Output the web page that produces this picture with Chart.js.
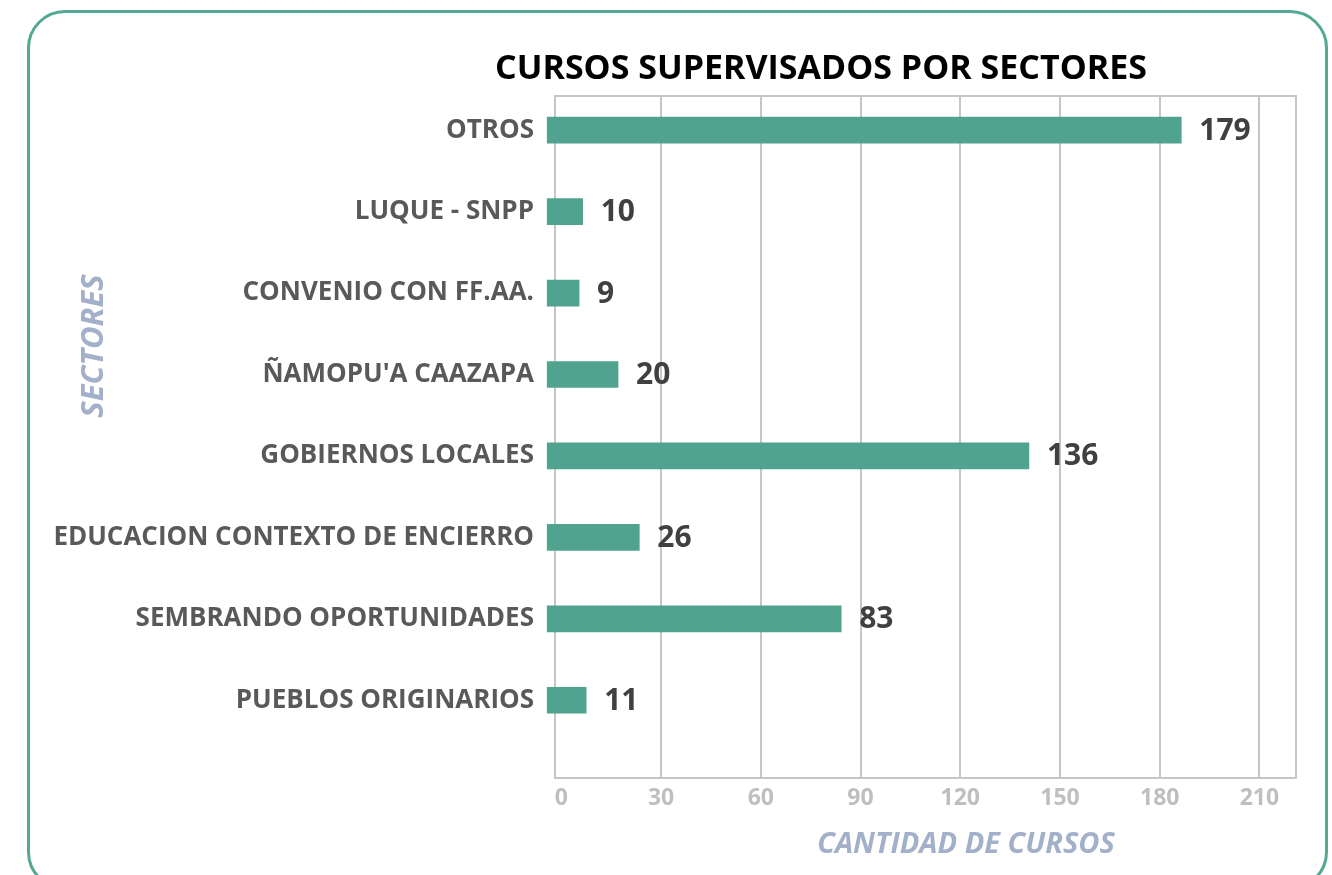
<!DOCTYPE html>
<html lang="es">
<head>
<meta charset="utf-8">
<title>Cursos supervisados por sectores</title>
<script src="https://cdn.jsdelivr.net/npm/chart.js@4.4.1/dist/chart.umd.min.js"></script>
<style>
  html, body { margin: 0; padding: 0; background: #fff; overflow: hidden; }
  .card {
    position: absolute; left: 27px; top: 10px;
    width: 1301px; height: 880px; box-sizing: border-box;
    border: 3px solid #55a894; border-radius: 38px;
  }
  #wrap { position: absolute; left: 0; top: 0; width: 1332px; height: 875px; }
</style>
</head>
<body>
<div class="card"></div>
<div id="wrap"><canvas id="sectoresChart"></canvas></div>
<script>
// data, top to bottom
const sectores = [
  'OTROS',
  'LUQUE - SNPP',
  'CONVENIO CON FF.AA.',
  "ÑAMOPU'A CAAZAPA",
  'GOBIERNOS LOCALES',
  'EDUCACION CONTEXTO DE ENCIERRO',
  'SEMBRANDO OPORTUNIDADES',
  'PUEBLOS ORIGINARIOS'
];
const cursos = [179, 10, 9, 20, 136, 26, 83, 11];
const tickStep = 30;

const chartTitle = 'CURSOS SUPERVISADOS POR SECTORES';
const xTitle = 'CANTIDAD DE CURSOS';
const yTitle = 'SECTORES';

const FONT = "'Open Sans', 'DejaVu Sans', sans-serif";
const barColor = '#50a38f';
const gridColor = '#c6c6c6';
const titleColor = '#a3b0c9';

// frame around plot area, drawn under the bars
const framePlugin = {
  id: 'frame',
  beforeDatasetsDraw(chart) {
    const { ctx, chartArea: a } = chart;
    ctx.save();
    ctx.strokeStyle = gridColor;
    ctx.lineWidth = 2;
    ctx.strokeRect(a.left, a.top, a.right - a.left, a.bottom - a.top);
    ctx.restore();
  }
};

// numbers at the end of each bar
const valueLabels = {
  id: 'valueLabels',
  afterDatasetsDraw(chart) {
    const { ctx } = chart;
    const meta = chart.getDatasetMeta(0);
    ctx.save();
    ctx.font = 'bold 30px ' + FONT;
    ctx.fillStyle = '#404040';
    ctx.textAlign = 'left';
    ctx.textBaseline = 'middle';
    meta.data.forEach((bar, i) => {
      ctx.fillText(String(cursos[i]), bar.x + 18, bar.y + 1);
    });
    ctx.restore();
  }
};

// chart title and axis titles, placed like in the original
const titles = {
  id: 'titles',
  afterDraw(chart) {
    const { ctx, chartArea: a } = chart;
    ctx.save();
    ctx.textAlign = 'center';
    ctx.textBaseline = 'middle';

    ctx.fillStyle = '#000';
    ctx.font = 'bold 34px ' + FONT;
    ctx.fillText(chartTitle, 821, 69);

    ctx.fillStyle = titleColor;
    ctx.font = 'italic bold 29px ' + FONT;
    ctx.fillText(xTitle, a.left + 411, a.bottom + 67);

    ctx.font = 'italic bold 31px ' + FONT;
    ctx.translate(94, a.top + 250);
    ctx.rotate(-Math.PI / 2);
    ctx.fillText(yTitle, 0, 0);
    ctx.restore();
  }
};

const ctx = document.getElementById('sectoresChart').getContext('2d');
new Chart(ctx, {
  type: 'bar',
  data: {
    datasets: [{
      label: 'Cursos',
      data: sectores.map((s, i) => ({ x: cursos[i], y: i })),
      backgroundColor: barColor,
      borderWidth: 0,
      barThickness: 26,
      base: 0,
      clip: false,
      xAxisID: 'x',
      yAxisID: 'y'
    }]
  },
  options: {
    indexAxis: 'y',
    responsive: true,
    maintainAspectRatio: false,
    animation: false,
    layout: { padding: { top: 96, right: 36, bottom: 0, left: 0 } },
    plugins: {
      legend: { display: false },
      tooltip: { enabled: false }
    },
    scales: {
      // scale the bars are measured on
      x: {
        type: 'linear',
        display: false,
        min: 2.2,
        max: 211.4
      },
      // scale with the printed ticks and grid
      x2: {
        type: 'linear',
        position: 'bottom',
        min: -1.9,
        max: 221,
        afterFit: (s) => { s.height = 97; },
        border: { display: false },
        grid: {
          drawTicks: false,
          lineWidth: 2,
          color: (c) => (c.tick && c.tick.value === 0 ? 'rgba(0,0,0,0)' : gridColor)
        },
        ticks: {
          stepSize: tickStep,
          includeBounds: false,
          padding: 7,
          color: '#bfbfbf',
          font: { family: FONT, size: 23, weight: 'bold' }
        }
      },
      y: {
        type: 'linear',
        reverse: true,
        offset: false,
        min: -0.42,
        max: 7.955,
        afterFit: (s) => { s.width = 555; },
        border: { display: false },
        grid: { display: false, drawTicks: false, offset: false },
        ticks: {
          stepSize: 1,
          includeBounds: false,
          autoSkip: false,
          padding: 21,
          color: '#595959',
          font: { family: FONT, size: 26, weight: 'bold' },
          callback: (v) => sectores[v] ?? ''
        }
      }
    }
  },
  plugins: [framePlugin, valueLabels, titles]
});
</script>
</body>
</html>
